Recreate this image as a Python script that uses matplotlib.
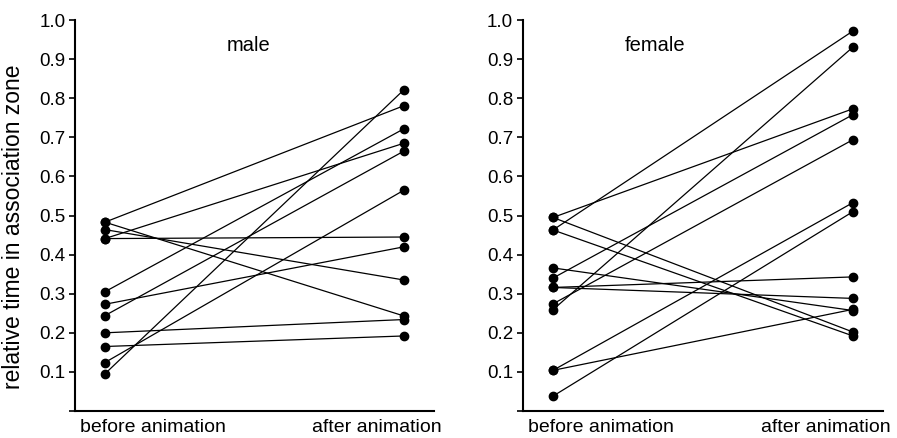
import matplotlib.pyplot as plt

plt.rcParams['font.family'] = ['Liberation Sans', 'DejaVu Sans']

# relative time in association zone, one entry per fish (before -> after)
male_before = [0.483, 0.483, 0.464, 0.441, 0.441, 0.305, 0.273, 0.244, 0.200, 0.165, 0.124, 0.095]
male_after = [0.781, 0.243, 0.335, 0.445, 0.685, 0.722, 0.420, 0.665, 0.234, 0.192, 0.565, 0.822]

female_before = [0.495, 0.495, 0.463, 0.463, 0.366, 0.340, 0.316, 0.316, 0.274, 0.259, 0.104, 0.104, 0.038]
female_after = [0.773, 0.202, 0.972, 0.192, 0.257, 0.758, 0.343, 0.288, 0.694, 0.931, 0.533, 0.260, 0.510]

phases = ["before animation", "after animation"]
yticks = [0.0, 0.1, 0.2, 0.3, 0.4, 0.5, 0.6, 0.7, 0.8, 0.9, 1.0]
yticklabels = [""] + ["%.1f" % v for v in yticks[1:]]

panels = [
    ("male", male_before, male_after, [0.0836, 0.0616, 0.4002, 0.8927], 0.48),
    ("female", female_before, female_after, [0.583, 0.0616, 0.4014, 0.8927], 0.34),
]

fig = plt.figure(figsize=(8.97, 4.38), dpi=100)

for title, before, after, rect, title_x in panels:
    ax = fig.add_axes(rect)
    for b, a in zip(before, after):
        ax.plot([0, 1], [b, a], color='black', linewidth=0.9,
                marker='o', markersize=6, markerfacecolor='black',
                markeredgecolor='black', clip_on=False)

    ax.set_xlim(-0.1, 1.1)
    ax.set_ylim(0, 1.0)
    ax.set_yticks(yticks)
    ax.set_yticklabels(yticklabels)
    ax.set_xticks([0.16, 0.91])
    ax.set_xticklabels(phases)
    ax.tick_params(axis='x', length=0, pad=6, labelsize=14)
    ax.tick_params(axis='y', length=4, width=1.2, pad=3, labelsize=13.5)

    for side in ('top', 'right'):
        ax.spines[side].set_visible(False)
    for side in ('left', 'bottom'):
        ax.spines[side].set_linewidth(1.5)

    ax.text(title_x, 0.934, title, fontsize=14.5, ha='center', va='center')

fig.text(14 / 897, 1 - 227 / 438, "relative time in association zone",
         rotation=90, ha='center', va='center', fontsize=16.5)

fig.savefig("out.png", dpi=100, facecolor='white')
